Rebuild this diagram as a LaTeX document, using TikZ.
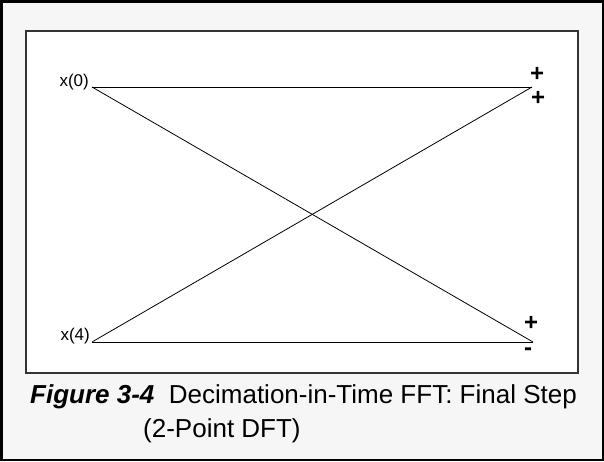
\documentclass[tikz,border=0pt]{standalone}
\usepackage{fontspec}
\setmainfont{Liberation Sans}
\definecolor{bggray}{HTML}{F6F6F6}
\definecolor{framegray}{HTML}{333333}
\begin{document}
\begin{tikzpicture}[x=1pt,y=-1pt,
  lbl/.style={inner sep=0pt,font=\fontsize{17}{20}\selectfont},
  sgn/.style={inner sep=0pt,font=\bfseries\fontsize{24}{26}\selectfont},
  wire/.style={line width=0.8pt,black},
  captext/.style={inner sep=0pt,font=\fontsize{26}{34}\selectfont,align=left,anchor=base west}]
\useasboundingbox (0,0) rectangle (604,461);
\draw[line width=2.5pt,fill=bggray] (1.25,1.25) rectangle (602.75,459.75);
\draw[line width=1.2pt,framegray,fill=white] (26,31) rectangle (578,373);
\coordinate (a) at (92,87);
\coordinate (b) at (92,342);
\coordinate (c) at (532,87);
\coordinate (d) at (533,342);
\draw[wire] (a) -- (c);
\draw[wire] (a) -- (d);
\draw[wire] (b) -- (c);
\draw[wire] (b) -- (d);
\node[lbl,anchor=east] (la) at (89,82) {x(0)};
\node[lbl,anchor=east] (lb) at (90,336) {x(4)};
\node[sgn] (p1) at (537,74) {+};
\node[sgn] (p2) at (538,98) {+};
\node[sgn] (p3) at (531,323) {+};
\node[sgn] (m4) at (528,352) {-};
\node[captext] (t1) at (30,403) {\textbf{\textit{Figure 3-4}}\ \ Decimation-in-Time FFT: Final Step};
\node[captext] (t2) at (143,437) {(2-Point DFT)};
\end{tikzpicture}
\end{document}
